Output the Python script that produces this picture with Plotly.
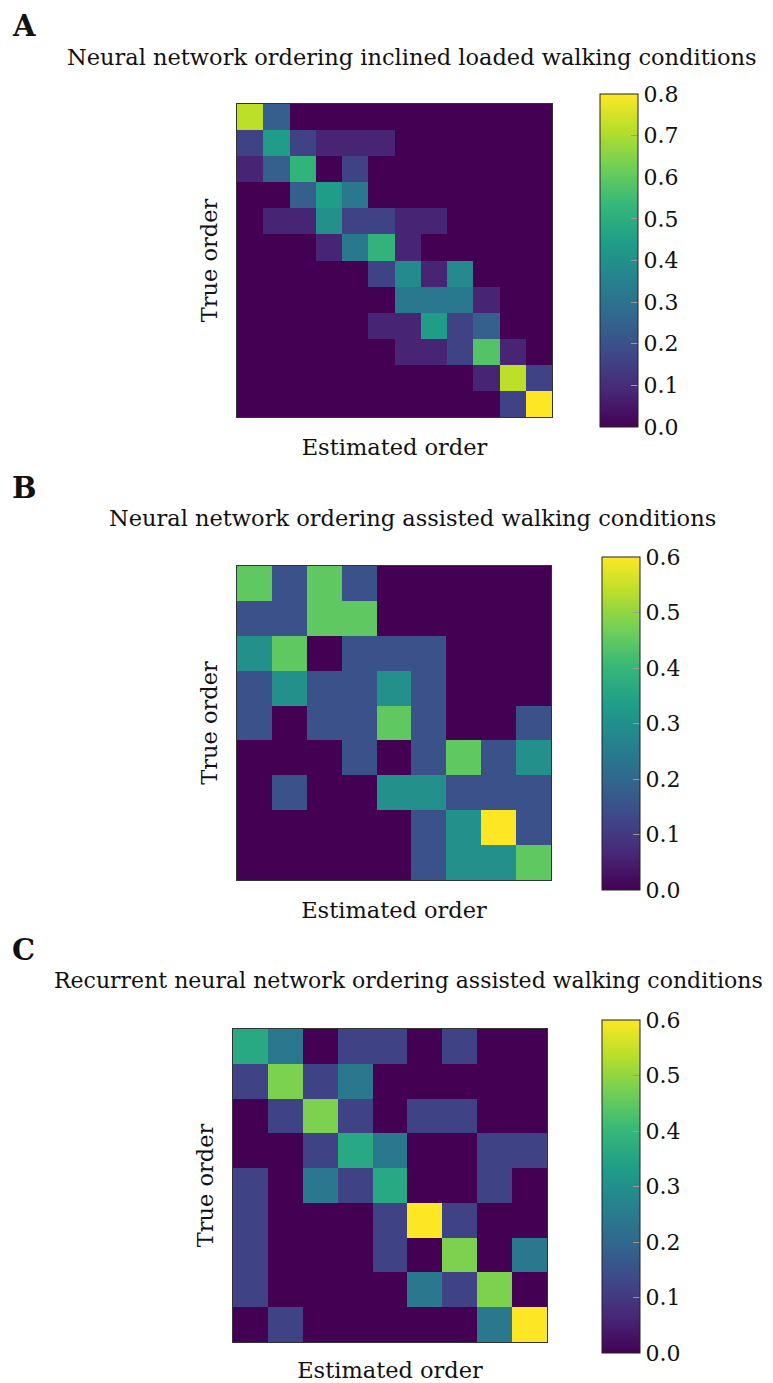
import plotly.graph_objects as go

# Page is offset by the default 8px body margin
OFF = 8
W, H = 773 - OFF, 1383 - OFF

# Panel A: 12x12, rows = true order (top first), cols = estimated order
z_a = [
    [0.72, 0.24, 0, 0, 0, 0, 0, 0, 0, 0, 0, 0],
    [0.16, 0.44, 0.16, 0.08, 0.08, 0.08, 0, 0, 0, 0, 0, 0],
    [0.08, 0.24, 0.52, 0, 0.16, 0, 0, 0, 0, 0, 0, 0],
    [0, 0, 0.24, 0.44, 0.32, 0, 0, 0, 0, 0, 0, 0],
    [0, 0.08, 0.08, 0.40, 0.16, 0.16, 0.08, 0.08, 0, 0, 0, 0],
    [0, 0, 0, 0.08, 0.32, 0.52, 0.08, 0, 0, 0, 0, 0],
    [0, 0, 0, 0, 0, 0.16, 0.38, 0.08, 0.38, 0, 0, 0],
    [0, 0, 0, 0, 0, 0, 0.32, 0.32, 0.32, 0.08, 0, 0],
    [0, 0, 0, 0, 0, 0.08, 0.08, 0.44, 0.16, 0.24, 0, 0],
    [0, 0, 0, 0, 0, 0, 0.08, 0.08, 0.16, 0.58, 0.08, 0],
    [0, 0, 0, 0, 0, 0, 0, 0, 0, 0.08, 0.72, 0.16],
    [0, 0, 0, 0, 0, 0, 0, 0, 0, 0, 0.16, 0.80],
]

# Panel B: 9x9
z_b = [
    [0.45, 0.15, 0.45, 0.15, 0, 0, 0, 0, 0],
    [0.15, 0.15, 0.45, 0.45, 0, 0, 0, 0, 0],
    [0.30, 0.45, 0, 0.15, 0.15, 0.15, 0, 0, 0],
    [0.15, 0.30, 0.15, 0.15, 0.30, 0.15, 0, 0, 0],
    [0.15, 0, 0.15, 0.15, 0.45, 0.15, 0, 0, 0.15],
    [0, 0, 0, 0.15, 0, 0.15, 0.45, 0.15, 0.30],
    [0, 0.15, 0, 0, 0.30, 0.30, 0.15, 0.15, 0.15],
    [0, 0, 0, 0, 0, 0.15, 0.30, 0.60, 0.15],
    [0, 0, 0, 0, 0, 0.15, 0.30, 0.30, 0.45],
]

# Panel C: 9x9
z_c = [
    [0.36, 0.24, 0, 0.12, 0.12, 0, 0.12, 0, 0],
    [0.12, 0.48, 0.12, 0.24, 0, 0, 0, 0, 0],
    [0, 0.12, 0.48, 0.12, 0, 0.12, 0.12, 0, 0],
    [0, 0, 0.12, 0.36, 0.24, 0, 0, 0.12, 0.12],
    [0.12, 0, 0.24, 0.12, 0.36, 0, 0, 0.12, 0],
    [0.12, 0, 0, 0, 0.12, 0.60, 0.12, 0, 0],
    [0.12, 0, 0, 0, 0.12, 0, 0.48, 0, 0.24],
    [0.12, 0, 0, 0, 0, 0.24, 0.12, 0.48, 0],
    [0, 0.12, 0, 0, 0, 0, 0, 0.24, 0.60],
]

panel_letters = ["A", "B", "C"]
titles = [
    "Neural network ordering inclined loaded walking conditions",
    "Neural network ordering assisted walking conditions",
    "Recurrent neural network ordering assisted walking conditions",
]
zmaxes = [0.8, 0.6, 0.6]
x_label = "Estimated order"
y_label = "True order"

FONT = "DejaVu Serif"

# pixel boxes in page coords (left, right, top, bottom)
hm_boxes = [(237, 552, 104, 417), (237, 551, 566, 880), (233, 547, 1029, 1342)]
cb_boxes = [(600, 638, 94, 427), (602, 640, 557, 890), (602, 640, 1020, 1353)]
title_pos = [(412, 57), (412, 518), (408, 980)]
title_sizes = [22.5, 22.5, 22]
letter_pos = [(10, 26), (10, 488), (10, 950)]


def px(x):
    return (x - OFF) / W


def py(y):
    return 1 - (y - OFF) / H


fig = go.Figure()
annotations = []
layout_axes = {}

for i, z in enumerate([z_a, z_b, z_c]):
    n = len(z)
    l, r, t, b = hm_boxes[i]
    cl, cr, ct, cbm = cb_boxes[i]
    xa = "x" if i == 0 else f"x{i+1}"
    ya = "y" if i == 0 else f"y{i+1}"
    zmax = zmaxes[i]
    ticks = [round(k * 0.1, 1) for k in range(int(round(zmax * 10)) + 1)]
    fig.add_trace(go.Heatmap(
        z=z, x=list(range(n)), y=list(range(n)),
        xaxis=xa, yaxis=ya,
        colorscale="Viridis", zmin=0, zmax=zmax,
        xgap=0, ygap=0,
        colorbar=dict(
            x=px(cl), xanchor="left", xpad=0,
            y=py(ct), yanchor="top", ypad=0,
            len=(cbm - ct) / H, lenmode="fraction",
            thickness=cr - cl, thicknessmode="pixels",
            outlinewidth=1, outlinecolor="#222",
            tickvals=ticks, ticktext=[f"{v:.1f}" for v in ticks],
            ticks="inside", ticklen=7, tickcolor="#999", tickwidth=1,
            tickfont=dict(family=FONT, size=22, color="#111"),
        ),
    ))
    xkey = "xaxis" if i == 0 else f"xaxis{i+1}"
    ykey = "yaxis" if i == 0 else f"yaxis{i+1}"
    layout_axes[xkey] = dict(
        domain=[px(l), px(r)], anchor=ya, range=[-0.5, n - 0.5],
        showticklabels=False, ticks="", showgrid=False, zeroline=False,
        showline=True, mirror=True, linecolor="#333", linewidth=1,
        title=dict(text=x_label, font=dict(family=FONT, size=22.5, color="#111"), standoff=22),
    )
    layout_axes[ykey] = dict(
        domain=[py(b), py(t)], anchor=xa, range=[n - 0.5, -0.5],
        showticklabels=False, ticks="", showgrid=False, zeroline=False,
        showline=True, mirror=True, linecolor="#333", linewidth=1,
        title=dict(text=y_label, font=dict(family=FONT, size=22.5, color="#111"), standoff=12),
    )
    tx, ty = title_pos[i]
    annotations.append(dict(
        text=titles[i], x=px(tx), y=py(ty), xref="paper", yref="paper",
        xanchor="center", yanchor="middle", showarrow=False,
        font=dict(family=FONT, size=title_sizes[i], color="#111"),
    ))
    lx, ly = letter_pos[i]
    annotations.append(dict(
        text="<b>" + panel_letters[i] + "</b>", x=px(lx), y=py(ly), xref="paper", yref="paper",
        xanchor="left", yanchor="middle", showarrow=False,
        font=dict(family=FONT, size=29, color="#111"),
    ))

fig.update_layout(
    width=W, height=H,
    margin=dict(l=0, r=0, t=0, b=0),
    paper_bgcolor="white", plot_bgcolor="white",
    annotations=annotations,
    showlegend=False,
    **layout_axes,
)

fig.write_html("out.html")
